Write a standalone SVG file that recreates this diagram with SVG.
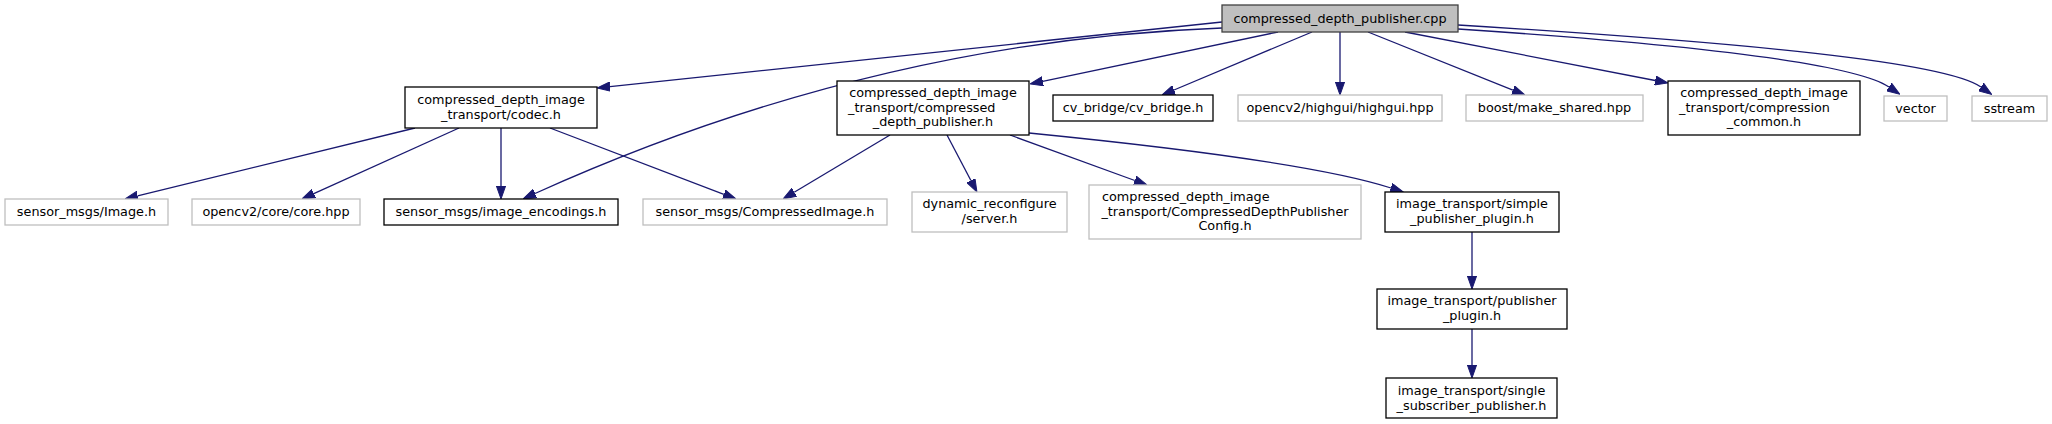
<svg xmlns="http://www.w3.org/2000/svg" width="2052" height="424" viewBox="0 0 2052 424">
<style>
text{font-family:"DejaVu Sans","Liberation Sans",sans-serif;font-size:12.8px;fill:#000;text-anchor:middle}
.s{text-anchor:start}
.doc rect{fill:#fff;stroke:#000;stroke-width:1.3}
.und rect{fill:#fff;stroke:#bfbfbf;stroke-width:1.3}
.root rect{fill:#bfbfbf;stroke:#404040;stroke-width:1.3}
#edges path{fill:none;stroke:#191970;stroke-width:1.3;marker-end:url(#ah)}
</style>
<defs>
<marker id="ah" viewBox="0 0 13 10" refX="0" refY="5" markerWidth="13" markerHeight="10" markerUnits="userSpaceOnUse" orient="auto">
<path d="M0,0.4 L13,5 L0,9.6 z" fill="#191970" stroke="#191970" stroke-width="1"/>
</marker>
</defs>
<rect width="2052" height="424" fill="#fff"/>
<g id="edges">
<path d="M1222,22 L610,86.6"/>
<path d="M1222,28 C950,38 720,110 535,193.5"/>
<path d="M1278,32 L1042.7,81.3"/>
<path d="M1312,32 L1174,90"/>
<path d="M1340,32 L1340,82"/>
<path d="M1368,32 L1512.9,90.2"/>
<path d="M1405,32 L1655.2,80.5"/>
<path d="M1458,29 C1700,45 1855,64 1889,87"/>
<path d="M1458,25 C1750,43 1945,62 1981,87"/>
<path d="M415,128 L137.6,195.9"/>
<path d="M459,128 L313.8,193.6"/>
<path d="M501,128 L501,186"/>
<path d="M550,128 L723.9,194.4"/>
<path d="M890,135 L794.2,192.3"/>
<path d="M947,135 L970.9,180.5"/>
<path d="M1010,135 L1134.8,180.5"/>
<path d="M1029,133 C1150,145 1320,165 1391,188"/>
<path d="M1472,232 L1472,276"/>
<path d="M1472,329 L1472,365"/>
</g>
<g id="n_root" class="root"><rect x="1222" y="5" width="236" height="27"/><text x="1340" y="22.5">compressed_depth_publisher.cpp</text></g>
<g id="n_codec" class="doc"><rect x="405" y="87" width="192" height="41"/><text x="501" y="104">compressed_depth_image</text><text x="501" y="119">_transport/codec.h</text></g>
<g id="n_comp_pub" class="doc"><rect x="837" y="81" width="192" height="54"/><text x="933" y="97.3">compressed_depth_image</text><text class="s" x="848" y="111.5">_transport/compressed</text><text x="933" y="126.3">_depth_publisher.h</text></g>
<g id="n_cv_bridge" class="doc"><rect x="1053" y="95" width="160" height="26"/><text x="1133" y="112">cv_bridge/cv_bridge.h</text></g>
<g id="n_highgui" class="und"><rect x="1238" y="95" width="204" height="26"/><text x="1340" y="112">opencv2/highgui/highgui.hpp</text></g>
<g id="n_boost" class="und"><rect x="1466" y="95" width="177" height="26"/><text x="1554.5" y="112">boost/make_shared.hpp</text></g>
<g id="n_comp_common" class="doc"><rect x="1668" y="81" width="192" height="54"/><text x="1764" y="97.3">compressed_depth_image</text><text class="s" x="1679" y="111.5">_transport/compression</text><text x="1764" y="126.3">_common.h</text></g>
<g id="n_vector" class="und"><rect x="1884" y="96" width="63" height="25"/><text x="1915.5" y="112.5">vector</text></g>
<g id="n_sstream" class="und"><rect x="1972" y="96" width="75" height="25"/><text x="2009.5" y="112.5">sstream</text></g>
<g id="n_image" class="und"><rect x="5" y="199" width="163" height="26"/><text x="86.5" y="215.8">sensor_msgs/Image.h</text></g>
<g id="n_core" class="und"><rect x="192" y="199" width="168" height="26"/><text x="276" y="215.8">opencv2/core/core.hpp</text></g>
<g id="n_encodings" class="doc"><rect x="384" y="199" width="234" height="26"/><text x="501" y="215.8">sensor_msgs/image_encodings.h</text></g>
<g id="n_compressed_image" class="und"><rect x="643" y="199" width="244" height="26"/><text x="765" y="215.8">sensor_msgs/CompressedImage.h</text></g>
<g id="n_dynamic" class="und"><rect x="912" y="192" width="155" height="40"/><text x="989.5" y="208">dynamic_reconfigure</text><text x="989.5" y="223">/server.h</text></g>
<g id="n_config" class="und"><rect x="1089" y="185" width="272" height="54"/><text class="s" x="1102" y="201.3">compressed_depth_image</text><text x="1225" y="215.5">_transport/CompressedDepthPublisher</text><text x="1225" y="230.3">Config.h</text></g>
<g id="n_simple" class="doc"><rect x="1385" y="192" width="174" height="40"/><text x="1472" y="208">image_transport/simple</text><text x="1472" y="223">_publisher_plugin.h</text></g>
<g id="n_publisher" class="doc"><rect x="1377" y="289" width="190" height="40"/><text x="1472" y="305.3">image_transport/publisher</text><text x="1472" y="319.8">_plugin.h</text></g>
<g id="n_single" class="doc"><rect x="1386" y="378" width="171" height="40"/><text x="1471.5" y="394.6">image_transport/single</text><text x="1471.5" y="409.6">_subscriber_publisher.h</text></g>
</svg>
